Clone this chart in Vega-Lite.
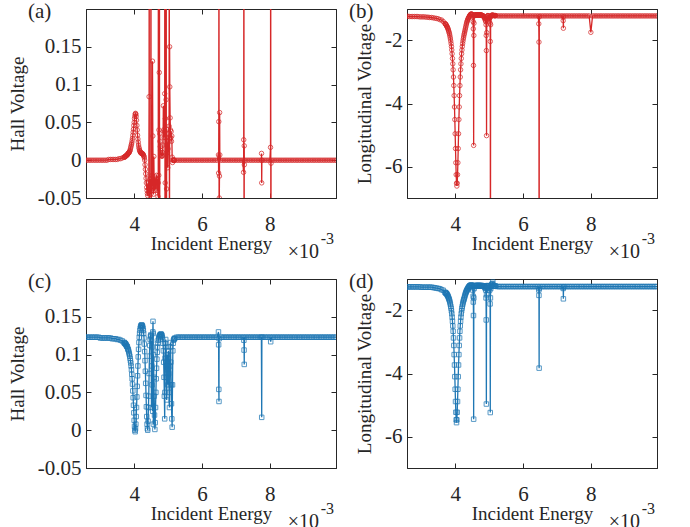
{
  "$schema": "https://vega.github.io/schema/vega-lite/v6.json",
  "background": "white",
  "padding": {"left": 7, "top": 0, "right": 0, "bottom": 0},
  "config": {
    "view": {"stroke": "#262626", "strokeWidth": 1},
    "axis": {
      "labelFont": "Liberation Serif", "labelFontSize": 21, "labelColor": "#262626",
      "titleFont": "Liberation Serif", "titleFontSize": 19, "titleFontWeight": "normal", "titleColor": "#262626",
      "domainColor": "#262626", "tickColor": "#262626", "grid": false, "tickSize": -5
    },
    "text": {"font": "Liberation Serif", "color": "#262626", "baseline": "alphabetic"}
  },
  "datasets": {
    "rows": [
      {"e":2.55,"h1":0,"l1":-1.23,"h2":0.123,"l2":-1.25},
      {"e":2.60,"h1":0,"l1":-1.23,"h2":0.123,"l2":-1.25},
      {"e":2.65,"h1":0,"l1":-1.24,"h2":0.123,"l2":-1.25},
      {"e":2.70,"h1":0,"l1":-1.24,"h2":0.123,"l2":-1.25},
      {"e":2.75,"h1":0,"l1":-1.24,"h2":0.123,"l2":-1.25},
      {"e":2.80,"h1":0,"l1":-1.24,"h2":0.123,"l2":-1.25},
      {"e":2.85,"h1":0,"l1":-1.24,"h2":0.123,"l2":-1.25},
      {"e":2.90,"h1":0,"l1":-1.24,"h2":0.123,"l2":-1.25},
      {"e":2.95,"h1":0,"l1":-1.25,"h2":0.123,"l2":-1.25},
      {"e":3.00,"h1":0,"l1":-1.25,"h2":0.122,"l2":-1.26},
      {"e":3.05,"h1":0,"l1":-1.25,"h2":0.122,"l2":-1.26},
      {"e":3.10,"h1":0,"l1":-1.25,"h2":0.122,"l2":-1.26},
      {"e":3.15,"h1":0,"l1":-1.26,"h2":0.122,"l2":-1.26},
      {"e":3.20,"h1":0,"l1":-1.26,"h2":0.122,"l2":-1.26},
      {"e":3.25,"h1":0.001,"l1":-1.27,"h2":0.122,"l2":-1.26},
      {"e":3.30,"h1":0.001,"l1":-1.27,"h2":0.122,"l2":-1.26},
      {"e":3.35,"h1":0.001,"l1":-1.28,"h2":0.121,"l2":-1.27},
      {"e":3.40,"h1":0.001,"l1":-1.29,"h2":0.121,"l2":-1.28},
      {"e":3.45,"h1":0.001,"l1":-1.30,"h2":0.121,"l2":-1.29},
      {"e":3.50,"h1":0.001,"l1":-1.31,"h2":0.120,"l2":-1.30},
      {"e":3.55,"h1":0.002,"l1":-1.34,"h2":0.120,"l2":-1.31},
      {"e":3.60,"h1":0.002,"l1":-1.35,"h2":0.119,"l2":-1.34},
      {"e":3.65,"h1":0.003,"l1":-1.40,"h2":0.118,"l2":-1.36},
      {"e":3.70,"h1":0.004,"l1":-1.46,"h2":0.116,"l2":-1.42},
      {"e":3.71,"h1":0.004,"l1":-1.47,"h2":0.116,"l2":-1.43},
      {"e":3.72,"h1":0.004,"l1":-1.48,"h2":0.115,"l2":-1.44},
      {"e":3.73,"h1":0.005,"l1":-1.50,"h2":0.115,"l2":-1.45},
      {"e":3.74,"h1":0.005,"l1":-1.52,"h2":0.114,"l2":-1.46},
      {"e":3.75,"h1":0.005,"l1":-1.54,"h2":0.114,"l2":-1.47},
      {"e":3.76,"h1":0.006,"l1":-1.56,"h2":0.113,"l2":-1.49},
      {"e":3.77,"h1":0.006,"l1":-1.58,"h2":0.112,"l2":-1.51},
      {"e":3.78,"h1":0.007,"l1":-1.61,"h2":0.111,"l2":-1.53},
      {"e":3.79,"h1":0.007,"l1":-1.63,"h2":0.111,"l2":-1.55},
      {"e":3.80,"h1":0.007,"l1":-1.67,"h2":0.110,"l2":-1.58},
      {"e":3.81,"h1":0.008,"l1":-1.70,"h2":0.108,"l2":-1.61},
      {"e":3.82,"h1":0.009,"l1":-1.74,"h2":0.107,"l2":-1.64},
      {"e":3.83,"h1":0.009,"l1":-1.78,"h2":0.106,"l2":-1.67},
      {"e":3.84,"h1":0.010,"l1":-1.83,"h2":0.104,"l2":-1.71},
      {"e":3.85,"h1":0.010,"l1":-1.89,"h2":0.102,"l2":-1.76},
      {"e":3.86,"h1":0.011,"l1":-1.95,"h2":0.100,"l2":-1.81},
      {"e":3.87,"h1":0.012,"l1":-2.02,"h2":0.098,"l2":-1.87},
      {"e":3.88,"h1":0.013,"l1":-2.10,"h2":0.095,"l2":-1.93},
      {"e":3.89,"h1":0.015,"l1":-2.19,"h2":0.092,"l2":-2.01},
      {"e":3.90,"h1":0.017,"l1":-2.30,"h2":0.089,"l2":-2.10},
      {"e":3.91,"h1":0.019,"l1":-2.42,"h2":0.085,"l2":-2.21},
      {"e":3.92,"h1":0.021,"l1":-2.57,"h2":0.080,"l2":-2.34},
      {"e":3.93,"h1":0.023,"l1":-2.74,"h2":0.074,"l2":-2.49},
      {"e":3.94,"h1":0.026,"l1":-2.93,"h2":0.068,"l2":-2.66},
      {"e":3.95,"h1":0.029,"l1":-3.16,"h2":0.061,"l2":-2.87},
      {"e":3.96,"h1":0.033,"l1":-3.43,"h2":0.052,"l2":-3.11},
      {"e":3.97,"h1":0.037,"l1":-3.75,"h2":0.043,"l2":-3.40},
      {"e":3.98,"h1":0.041,"l1":-4.11,"h2":0.033,"l2":-3.73},
      {"e":3.99,"h1":0.046,"l1":-4.51,"h2":0.023,"l2":-4.10},
      {"e":4.00,"h1":0.050,"l1":-4.96,"h2":0.013,"l2":-4.50},
      {"e":4.01,"h1":0.055,"l1":-5.43,"h2":0.005,"l2":-4.89},
      {"e":4.02,"h1":0.058,"l1":-5.88,"h2":0.000,"l2":-5.23},
      {"e":4.03,"h1":0.061,"l1":-6.26,"h2":-0.002,"l2":-5.47},
      {"e":4.04,"h1":0.062,"l1":-6.53,"h2":0.002,"l2":-5.56},
      {"e":4.05,"h1":0.061,"l1":-6.62,"h2":0.008,"l2":-5.47},
      {"e":4.06,"h1":0.058,"l1":-6.53,"h2":0.018,"l2":-5.23},
      {"e":4.07,"h1":0.053,"l1":-6.26,"h2":0.030,"l2":-4.89},
      {"e":4.08,"h1":0.046,"l1":-5.88,"h2":0.044,"l2":-4.50},
      {"e":4.09,"h1":0.040,"l1":-5.43,"h2":0.058,"l2":-4.10},
      {"e":4.10,"h1":0.033,"l1":-4.96,"h2":0.072,"l2":-3.73},
      {"e":4.11,"h1":0.028,"l1":-4.51,"h2":0.085,"l2":-3.40},
      {"e":4.12,"h1":0.024,"l1":-4.11,"h2":0.097,"l2":-3.11},
      {"e":4.13,"h1":0.020,"l1":-3.75,"h2":0.107,"l2":-2.87},
      {"e":4.14,"h1":0.017,"l1":-3.43,"h2":0.116,"l2":-2.66},
      {"e":4.15,"h1":0.015,"l1":-3.16,"h2":0.123,"l2":-2.49},
      {"e":4.16,"h1":0.013,"l1":-2.93,"h2":0.128,"l2":-2.34},
      {"e":4.17,"h1":0.012,"l1":-2.74,"h2":0.132,"l2":-2.21},
      {"e":4.18,"h1":0.011,"l1":-2.57,"h2":0.135,"l2":-2.10},
      {"e":4.19,"h1":0.010,"l1":-2.42,"h2":0.137,"l2":-2.01},
      {"e":4.20,"h1":0.010,"l1":-2.30,"h2":0.138,"l2":-1.93},
      {"e":4.21,"h1":0.009,"l1":-2.19,"h2":0.139,"l2":-1.87},
      {"e":4.22,"h1":0.009,"l1":-2.10,"h2":0.139,"l2":-1.81},
      {"e":4.23,"h1":0.009,"l1":-2.02,"h2":0.139,"l2":-1.76},
      {"e":4.24,"h1":0.009,"l1":-1.95,"h2":0.138,"l2":-1.71},
      {"e":4.25,"h1":0.008,"l1":-1.89,"h2":0.137,"l2":-1.67},
      {"e":4.26,"h1":0.008,"l1":-1.83,"h2":0.135,"l2":-1.64},
      {"e":4.27,"h1":0.007,"l1":-1.78,"h2":0.132,"l2":-1.60},
      {"e":4.28,"h1":0.006,"l1":-1.73,"h2":0.128,"l2":-1.56},
      {"e":4.29,"h1":0.005,"l1":-1.68,"h2":0.122,"l2":-1.52},
      {"e":4.30,"h1":0.003,"l1":-1.63,"h2":0.114,"l2":-1.48},
      {"e":4.31,"h1":0.000,"l1":-1.58,"h2":0.104,"l2":-1.45},
      {"e":4.32,"h1":-0.006,"l1":-1.53,"h2":0.092,"l2":-1.42},
      {"e":4.33,"h1":-0.012,"l1":-1.48,"h2":0.078,"l2":-1.39},
      {"e":4.34,"h1":-0.018,"l1":-1.44,"h2":0.062,"l2":-1.37},
      {"e":4.35,"h1":-0.024,"l1":-1.40,"h2":0.046,"l2":-1.35},
      {"e":4.36,"h1":-0.030,"l1":-1.37,"h2":0.031,"l2":-1.33},
      {"e":4.37,"h1":-0.036,"l1":-1.34,"h2":0.018,"l2":-1.31},
      {"e":4.38,"h1":-0.040,"l1":-1.31,"h2":0.008,"l2":-1.29},
      {"e":4.39,"h1":-0.044,"l1":-1.29,"h2":0.002,"l2":-1.27},
      {"e":4.40,"h1":-0.047,"l1":-1.27,"h2":0.000,"l2":-1.26},
      {"e":4.41,"h1":-0.030,"l1":-1.25,"h2":0.012,"l2":-1.24},
      {"e":4.42,"h1":-0.038,"l1":-1.23,"h2":0.030,"l2":-1.23},
      {"e":4.43,"h1":-0.043,"l1":-1.21,"h2":0.045,"l2":-1.22},
      {"e":4.44,"h1":0.084,"l1":-1.19,"h2":0.075,"l2":-1.21},
      {"e":4.444,"h1":0.6},
      {"e":4.447,"h1":-0.5},
      {"e":4.45,"h1":-0.045,"l1":-1.18,"h2":0.098,"l2":-1.20},
      {"e":4.46,"h1":-0.025,"l1":-1.17,"h2":0.112,"l2":-1.20},
      {"e":4.47,"h1":-0.040,"l1":-1.16,"h2":0.120,"l2":-1.20},
      {"e":4.48,"h1":-0.030,"l1":-1.16,"h2":0.124,"l2":-1.20},
      {"e":4.49,"h1":-0.045,"l1":-1.17,"h2":0.126,"l2":-1.20},
      {"e":4.495,"h1":0.6},
      {"e":4.50,"h1":-0.5,"l1":-1.17,"h2":0.125,"l2":-1.21},
      {"e":4.505,"h1":-0.035},
      {"e":4.51,"h1":-0.028,"l1":-1.18,"h2":0.030,"l2":-1.25},
      {"e":4.515,"h2":0.118},
      {"e":4.52,"h1":-0.040,"l1":-1.25,"h2":0.085,"l2":-1.35},
      {"e":4.53,"h1":-0.020,"l1":-1.40,"h2":0.060,"l2":-1.55},
      {"e":4.535,"l1":-1.63,"l2":-1.73},
      {"e":4.54,"h1":0.131,"l1":-2.79,"h2":0.110,"l2":-2.16},
      {"e":4.545,"l1":-5.33,"h2":0.025,"l2":-5.45},
      {"e":4.55,"h1":0.032,"l1":-1.84,"h2":0.130,"l2":-1.60},
      {"e":4.555,"l1":-1.45,"h2":0.144},
      {"e":4.56,"h1":-0.030,"l1":-1.22,"h2":0.128,"l2":-1.30},
      {"e":4.565,"h2":0.008},
      {"e":4.57,"h1":-0.045,"l1":-1.19,"h2":0.100,"l2":-1.22},
      {"e":4.58,"h1":0.005,"l1":-1.19,"h2":0.070,"l2":-1.21},
      {"e":4.59,"h1":-0.035,"l1":-1.19,"h2":0.045,"l2":-1.21},
      {"e":4.60,"h1":-0.022,"l1":-1.19,"h2":0.020,"l2":-1.21},
      {"e":4.61,"h1":-0.040,"l1":-1.19,"h2":0.001,"l2":-1.21},
      {"e":4.62,"h1":-0.028,"l1":-1.19,"h2":0.010,"l2":-1.21},
      {"e":4.63,"h1":-0.038,"l1":-1.19,"h2":0.030,"l2":-1.21},
      {"e":4.64,"h1":-0.025,"l1":-1.19,"h2":0.050,"l2":-1.21},
      {"e":4.65,"h1":-0.033,"l1":-1.19,"h2":0.068,"l2":-1.21},
      {"e":4.66,"h1":-0.020,"l1":-1.19,"h2":0.082,"l2":-1.21},
      {"e":4.67,"h1":-0.030,"l1":-1.19,"h2":0.094,"l2":-1.21},
      {"e":4.68,"h1":-0.040,"l1":-1.19,"h2":0.103,"l2":-1.21},
      {"e":4.69,"h1":-0.025,"l1":-1.19,"h2":0.110,"l2":-1.21},
      {"e":4.70,"h1":-0.048,"l1":-1.19,"h2":0.115,"l2":-1.21},
      {"e":4.71,"h1":-0.030,"l1":-1.19,"h2":0.119,"l2":-1.21},
      {"e":4.715,"h1":0.6},
      {"e":4.72,"h1":-0.5,"l1":-1.19,"h2":0.121,"l2":-1.21},
      {"e":4.725,"h1":-0.020},
      {"e":4.73,"h1":0.040,"l1":-1.19,"h2":0.123,"l2":-1.21},
      {"e":4.74,"h1":0.116,"l1":-1.19,"h2":0.124,"l2":-1.21},
      {"e":4.745,"h1":0.6},
      {"e":4.75,"h1":-0.5,"l1":-1.19,"h2":0.125,"l2":-1.21},
      {"e":4.755,"h1":0.035},
      {"e":4.76,"h1":0.025,"l1":-1.19,"h2":0.126,"l2":-1.21},
      {"e":4.77,"h1":0.018,"l1":-1.19,"h2":0.126,"l2":-1.21},
      {"e":4.78,"h1":0.013,"l1":-1.20,"h2":0.127,"l2":-1.21},
      {"e":4.79,"h1":0.010,"l1":-1.20,"h2":0.127,"l2":-1.21},
      {"e":4.80,"h1":0.008,"l1":-1.21,"h2":0.127,"l2":-1.22},
      {"e":4.81,"h1":0.006,"l1":-1.21,"h2":0.126,"l2":-1.22},
      {"e":4.82,"h1":0.005,"l1":-1.22,"h2":0.125,"l2":-1.22},
      {"e":4.83,"h1":0.006,"l1":-1.22,"h2":0.123,"l2":-1.22},
      {"e":4.84,"h1":0.010,"l1":-1.23,"h2":0.120,"l2":-1.23},
      {"e":4.85,"h1":0.020,"l1":-1.25,"h2":0.115,"l2":-1.23},
      {"e":4.86,"h1":0.072,"l1":-1.27,"h2":0.105,"l2":-1.24},
      {"e":4.87,"h1":0.040,"l1":-1.29,"h2":0.090,"l2":-1.25},
      {"e":4.88,"h1":0.030,"l1":-1.32,"h2":0.070,"l2":-1.27},
      {"e":4.89,"h1":0.038,"l1":-1.36,"h2":0.045,"l2":-1.30},
      {"e":4.90,"h1":0.088,"l1":-1.40,"h2":0.015,"l2":-1.35},
      {"e":4.905,"h1":0.6,"h2":0.050},
      {"e":4.91,"h1":-0.5,"l1":-1.50,"h2":0.095,"l2":-1.60},
      {"e":4.915,"h1":-0.030,"l1":-1.84,"l2":-2.30},
      {"e":4.92,"h1":0.055,"l1":-2.32,"h2":0.115,"l2":-4.97},
      {"e":4.925,"l1":-5.02,"l2":-1.50},
      {"e":4.93,"h1":0.030,"l1":-1.75,"h2":0.120,"l2":-1.30},
      {"e":4.935,"l1":-1.35},
      {"e":4.94,"h1":0.080,"l1":-1.25,"h2":0.110,"l2":-1.24},
      {"e":4.945,"h1":0.6},
      {"e":4.95,"h1":-0.5,"l1":-1.22,"h2":0.070,"l2":-1.22},
      {"e":4.955,"h1":-0.038},
      {"e":4.96,"h1":0.041,"l1":-1.21,"h2":0.040,"l2":-1.21},
      {"e":4.97,"h1":0.020,"l1":-1.21,"h2":0.080,"l2":-1.21},
      {"e":4.98,"h1":0.010,"l1":-1.22,"h2":0.100,"l2":-1.22},
      {"e":4.99,"h1":-0.010,"l1":-1.25,"h2":0.060,"l2":-1.24},
      {"e":5.00,"h1":0.015,"l1":-1.38,"h2":0.095,"l2":-1.28},
      {"e":5.01,"h1":0.025,"l1":-1.30,"h2":0.105,"l2":-1.26},
      {"e":5.02,"h1":0.035,"l1":-1.28,"h2":0.075,"l2":-1.35},
      {"e":5.03,"h1":0.045,"l1":-1.45,"h2":0.050,"l2":-1.79},
      {"e":5.035,"h1":0.6,"l1":-2.03,"l2":-5.24},
      {"e":5.04,"h1":-0.5,"l1":-12,"h2":0.030,"l2":-1.60},
      {"e":5.045,"h1":0.150,"l1":-1.50},
      {"e":5.05,"h1":0.097,"l1":-1.25,"h2":0.085,"l2":-1.30},
      {"e":5.06,"h1":0.056,"l1":-1.21,"h2":0.110,"l2":-1.22},
      {"e":5.07,"h1":0.040,"l1":-1.20,"h2":0.116,"l2":-1.20},
      {"e":5.08,"h1":0.030,"l1":-1.20,"h2":0.090,"l2":-1.18},
      {"e":5.09,"h1":0.038,"l1":-1.20,"h2":0.060,"l2":-1.16},
      {"e":5.10,"h1":0.025,"l1":-1.20,"h2":0.035,"l2":-1.15},
      {"e":5.11,"h1":0.032,"l1":-1.20,"h2":0.015,"l2":-1.10},
      {"e":5.12,"h1":0.004,"l1":-1.20,"h2":0.004,"l2":-1.20},
      {"e":5.13,"h1":-0.003,"l1":-1.20,"h2":0.060,"l2":-1.22},
      {"e":5.14,"h1":0.000,"l1":-1.21,"h2":0.105,"l2":-1.23},
      {"e":5.15,"h1":0,"l1":-1.21,"h2":0.115,"l2":-1.23},
      {"e":5.16,"h1":0,"l1":-1.21,"h2":0.119,"l2":-1.23},
      {"e":5.17,"h1":0,"l1":-1.21,"h2":0.120,"l2":-1.23},
      {"e":5.18,"h1":0,"l1":-1.21,"h2":0.121,"l2":-1.23},
      {"e":5.19,"h1":0,"l1":-1.21,"h2":0.121,"l2":-1.23},
      {"e":5.20,"h1":0,"l1":-1.21,"h2":0.122,"l2":-1.23},
      {"e":5.25,"h1":0,"l1":-1.22,"h2":0.123,"l2":-1.24},
      {"e":5.30,"h1":0,"l1":-1.22,"h2":0.123,"l2":-1.24},
      {"e":5.35,"h1":0,"l1":-1.22,"h2":0.123,"l2":-1.24},
      {"e":5.40,"h1":0,"l1":-1.22,"h2":0.123,"l2":-1.24},
      {"e":5.45,"h1":0,"l1":-1.22,"h2":0.123,"l2":-1.24},
      {"e":5.50,"h1":0,"l1":-1.22,"h2":0.123,"l2":-1.24},
      {"e":5.55,"h1":0,"l1":-1.22,"h2":0.123,"l2":-1.24},
      {"e":5.60,"h1":0,"l1":-1.22,"h2":0.123,"l2":-1.24},
      {"e":5.65,"h1":0,"l1":-1.22,"h2":0.123,"l2":-1.24},
      {"e":5.70,"h1":0,"l1":-1.22,"h2":0.123,"l2":-1.24},
      {"e":5.75,"h1":0,"l1":-1.22,"h2":0.123,"l2":-1.24},
      {"e":5.80,"h1":0,"l1":-1.22,"h2":0.123,"l2":-1.24},
      {"e":5.85,"h1":0,"l1":-1.22,"h2":0.123,"l2":-1.24},
      {"e":5.90,"h1":0,"l1":-1.22,"h2":0.123,"l2":-1.24},
      {"e":5.95,"h1":0,"l1":-1.22,"h2":0.123,"l2":-1.24},
      {"e":6.00,"h1":0,"l1":-1.22,"h2":0.123,"l2":-1.24},
      {"e":6.05,"h1":0,"l1":-1.22,"h2":0.123,"l2":-1.24},
      {"e":6.10,"h1":0,"l1":-1.22,"h2":0.123,"l2":-1.24},
      {"e":6.15,"h1":0,"l1":-1.22,"h2":0.123,"l2":-1.24},
      {"e":6.20,"h1":0,"l1":-1.22,"h2":0.123,"l2":-1.24},
      {"e":6.25,"h1":0,"l1":-1.22,"h2":0.123,"l2":-1.24},
      {"e":6.30,"h1":0,"l1":-1.22,"h2":0.123,"l2":-1.24},
      {"e":6.35,"h1":0,"l1":-1.22,"h2":0.123,"l2":-1.24},
      {"e":6.40,"h1":0,"l1":-1.22,"h2":0.123,"l2":-1.24},
      {"e":6.45,"h1":0,"l1":-1.22,"h2":0.123,"l2":-1.24},
      {"e":6.465,"l1":-1.47,"l2":-1.35},
      {"e":6.47,"l1":-2.05,"l2":-1.52},
      {"e":6.475,"l1":-15,"l2":-3.83},
      {"e":6.48,"l1":-1.25,"l2":-1.30},
      {"e":6.485,"h1":0.007,"h2":0.130},
      {"e":6.49,"h1":-0.017,"h2":0.113},
      {"e":6.495,"h1":0.051,"h2":0.054},
      {"e":6.50,"h1":0.6,"l1":-1.22,"h2":0.038,"l2":-1.24},
      {"e":6.505,"h1":-0.5,"h2":0.121},
      {"e":6.51,"h1":-0.050},
      {"e":6.515,"h1":-0.021},
      {"e":6.52,"h1":0.063},
      {"e":6.525,"h1":0.007},
      {"e":6.55,"h1":0,"l1":-1.22,"h2":0.123,"l2":-1.24},
      {"e":6.60,"h1":0,"l1":-1.22,"h2":0.123,"l2":-1.24},
      {"e":6.65,"h1":0,"l1":-1.22,"h2":0.123,"l2":-1.24},
      {"e":6.70,"h1":0,"l1":-1.22,"h2":0.123,"l2":-1.24},
      {"e":6.75,"h1":0,"l1":-1.22,"h2":0.123,"l2":-1.24},
      {"e":6.80,"h1":0,"l1":-1.22,"h2":0.123,"l2":-1.24},
      {"e":6.85,"h1":0,"l1":-1.22,"h2":0.123,"l2":-1.24},
      {"e":6.90,"h1":0,"l1":-1.22,"h2":0.123,"l2":-1.24},
      {"e":6.95,"h1":0,"l1":-1.22,"h2":0.123,"l2":-1.24},
      {"e":7.00,"h1":0,"l1":-1.22,"h2":0.123,"l2":-1.24},
      {"e":7.05,"h1":0,"l1":-1.22,"h2":0.123,"l2":-1.24},
      {"e":7.10,"h1":0,"l1":-1.22,"h2":0.123,"l2":-1.24},
      {"e":7.15,"h1":0,"l1":-1.22,"h2":0.123,"l2":-1.24},
      {"e":7.185,"l1":-1.37,"l2":-1.30},
      {"e":7.19,"l1":-1.61,"l2":-1.63},
      {"e":7.195,"l1":-1.25,"l2":-1.25},
      {"e":7.20,"h1":0,"l1":-1.22,"h2":0.123,"l2":-1.24},
      {"e":7.225,"h1":-0.016},
      {"e":7.23,"h1":0.027},
      {"e":7.235,"h1":0.6,"h2":0.119},
      {"e":7.24,"h1":-0.5,"h2":0.106},
      {"e":7.245,"h1":0.019,"h2":0.087},
      {"e":7.248,"h1":-0.006},
      {"e":7.25,"h1":0,"l1":-1.22,"h2":0.123,"l2":-1.24},
      {"e":7.30,"h1":0,"l1":-1.22,"h2":0.123,"l2":-1.24},
      {"e":7.35,"h1":0,"l1":-1.22,"h2":0.123,"l2":-1.24},
      {"e":7.40,"h1":0,"l1":-1.22,"h2":0.123,"l2":-1.24},
      {"e":7.45,"h1":0,"l1":-1.22,"h2":0.123,"l2":-1.24},
      {"e":7.50,"h1":0,"l1":-1.22,"h2":0.123,"l2":-1.24},
      {"e":7.55,"h1":0,"l1":-1.22,"h2":0.123,"l2":-1.24},
      {"e":7.60,"h1":0,"l1":-1.22,"h2":0.123,"l2":-1.24},
      {"e":7.65,"h1":0,"l1":-1.22,"h2":0.123,"l2":-1.24},
      {"e":7.70,"h1":0,"l1":-1.22,"h2":0.123,"l2":-1.24},
      {"e":7.75,"h1":0,"l1":-1.22,"h2":0.123,"l2":-1.24},
      {"e":7.755,"h1":0.009},
      {"e":7.76,"h1":-0.030,"h2":0.017},
      {"e":7.765,"h1":0,"h2":0.123},
      {"e":7.80,"h1":0,"l1":-1.22,"h2":0.123,"l2":-1.24},
      {"e":7.85,"h1":0,"l1":-1.22,"h2":0.123,"l2":-1.24},
      {"e":7.90,"h1":0,"l1":-1.22,"h2":0.123,"l2":-1.24},
      {"e":7.95,"h1":0,"l1":-1.22,"h2":0.123,"l2":-1.24},
      {"e":8.00,"h1":0,"l1":-1.74,"h2":0.123,"l2":-1.24},
      {"e":8.02,"h1":0.017},
      {"e":8.025,"h1":0.6,"h2":0.117},
      {"e":8.03,"h1":-0.5},
      {"e":8.035,"h1":-0.004},
      {"e":8.05,"h1":0,"l1":-1.22,"h2":0.123,"l2":-1.24},
      {"e":8.10,"h1":0,"l1":-1.22,"h2":0.123,"l2":-1.24},
      {"e":8.15,"h1":0,"l1":-1.22,"h2":0.123,"l2":-1.24},
      {"e":8.20,"h1":0,"l1":-1.22,"h2":0.123,"l2":-1.24},
      {"e":8.25,"h1":0,"l1":-1.22,"h2":0.123,"l2":-1.24},
      {"e":8.30,"h1":0,"l1":-1.22,"h2":0.123,"l2":-1.24},
      {"e":8.35,"h1":0,"l1":-1.22,"h2":0.123,"l2":-1.24},
      {"e":8.40,"h1":0,"l1":-1.22,"h2":0.123,"l2":-1.24},
      {"e":8.45,"h1":0,"l1":-1.22,"h2":0.123,"l2":-1.24},
      {"e":8.50,"h1":0,"l1":-1.22,"h2":0.123,"l2":-1.24},
      {"e":8.55,"h1":0,"l1":-1.22,"h2":0.123,"l2":-1.24},
      {"e":8.60,"h1":0,"l1":-1.22,"h2":0.123,"l2":-1.24},
      {"e":8.65,"h1":0,"l1":-1.22,"h2":0.123,"l2":-1.24},
      {"e":8.70,"h1":0,"l1":-1.22,"h2":0.123,"l2":-1.24},
      {"e":8.75,"h1":0,"l1":-1.22,"h2":0.123,"l2":-1.24},
      {"e":8.80,"h1":0,"l1":-1.22,"h2":0.123,"l2":-1.24},
      {"e":8.85,"h1":0,"l1":-1.22,"h2":0.123,"l2":-1.24},
      {"e":8.90,"h1":0,"l1":-1.22,"h2":0.123,"l2":-1.24},
      {"e":8.95,"h1":0,"l1":-1.22,"h2":0.123,"l2":-1.24},
      {"e":9.00,"h1":0,"l1":-1.22,"h2":0.123,"l2":-1.24},
      {"e":9.05,"h1":0,"l1":-1.22,"h2":0.123,"l2":-1.24},
      {"e":9.10,"h1":0,"l1":-1.22,"h2":0.123,"l2":-1.24},
      {"e":9.15,"h1":0,"l1":-1.22,"h2":0.123,"l2":-1.24},
      {"e":9.20,"h1":0,"l1":-1.22,"h2":0.123,"l2":-1.24},
      {"e":9.25,"h1":0,"l1":-1.22,"h2":0.123,"l2":-1.24},
      {"e":9.30,"h1":0,"l1":-1.22,"h2":0.123,"l2":-1.24},
      {"e":9.35,"h1":0,"l1":-1.22,"h2":0.123,"l2":-1.24},
      {"e":9.40,"h1":0,"l1":-1.22,"h2":0.123,"l2":-1.24},
      {"e":9.45,"h1":0,"l1":-1.22,"h2":0.123,"l2":-1.24},
      {"e":9.50,"h1":0,"l1":-1.22,"h2":0.123,"l2":-1.24},
      {"e":9.55,"h1":0,"l1":-1.22,"h2":0.123,"l2":-1.24},
      {"e":9.60,"h1":0,"l1":-1.22,"h2":0.123,"l2":-1.24},
      {"e":9.65,"h1":0,"l1":-1.22,"h2":0.123,"l2":-1.24},
      {"e":9.70,"h1":0,"l1":-1.22,"h2":0.123,"l2":-1.24},
      {"e":9.75,"h1":0,"l1":-1.22,"h2":0.123,"l2":-1.24},
      {"e":9.80,"h1":0,"l1":-1.22,"h2":0.123,"l2":-1.24},
      {"e":9.85,"h1":0,"l1":-1.22,"h2":0.123,"l2":-1.24},
      {"e":9.90,"h1":0,"l1":-1.22,"h2":0.123,"l2":-1.24},
      {"e":9.95,"h1":0,"l1":-1.22,"h2":0.123,"l2":-1.24}
    ]
  },
  "columns": 2,
  "bounds": "flush",
  "spacing": {"row": 81, "column": 71},
  "concat": [
    {
      "width": 250, "height": 189,
      "layer": [
        {
          "data": {"name": "rows"},
          "transform": [{"filter": "isValid(datum.h1)"}],
          "mark": {"type": "line", "color": "#D62728", "strokeWidth": 1.3, "clip": true},
          "encoding": {
            "x": {"field": "e", "type": "quantitative", "scale": {"domain": [2.58, 9.95], "nice": false, "zero": false},
                  "axis": {"orient": "bottom", "values": [4, 6, 8], "format": "~g", "title": "Incident Energy", "labelPadding": 20, "titlePadding": 0}},
            "y": {"field": "h1", "type": "quantitative", "scale": {"domain": [-0.05, 0.2], "nice": false, "zero": false},
                  "axis": {"orient": "left", "values": [-0.05, 0, 0.05, 0.1, 0.15], "labelExpr": "datum.value < 0 ? '-' + format(-datum.value, '~g') : format(datum.value, '~g')", "title": "Hall Voltage", "labelPadding": 10, "titlePadding": 10}}
          }
        },
        {
          "data": {"name": "rows"},
          "transform": [{"filter": "isValid(datum.h1)"}],
          "mark": {"type": "point", "shape": "circle", "filled": false, "size": 20, "strokeWidth": 1, "color": "#D62728", "opacity": 0.75, "clip": true},
          "encoding": {
            "x": {"field": "e", "type": "quantitative", "axis": {"orient": "top", "values": [4, 6, 8], "labels": false, "title": null}},
            "y": {"field": "h1", "type": "quantitative", "axis": {"orient": "right", "values": [-0.05, 0, 0.05, 0.1, 0.15], "labels": false, "title": null}}
          }
        },
        {
          "data": {"values": [{}]},
          "mark": {"type": "text", "text": "(a)", "align": "left", "dx": -58, "dy": 9, "fontSize": 21},
          "encoding": {"x": {"datum": 2.58, "type": "quantitative", "axis": null}, "y": {"datum": 0.2, "type": "quantitative", "axis": null}}
        },
        {
          "data": {"values": [{}]},
          "mark": {"type": "text", "text": "×10", "align": "right", "dx": -17, "dy": 60, "fontSize": 20},
          "encoding": {"x": {"datum": 9.95, "type": "quantitative", "axis": null}, "y": {"datum": -0.05, "type": "quantitative", "axis": null}}
        },
        {
          "data": {"values": [{}]},
          "mark": {"type": "text", "text": "-3", "align": "right", "dx": -2, "dy": 46, "fontSize": 16},
          "encoding": {"x": {"datum": 9.95, "type": "quantitative", "axis": null}, "y": {"datum": -0.05, "type": "quantitative", "axis": null}}
        }
      ],
      "resolve": {"axis": {"x": "independent", "y": "independent"}}
    },
    {
      "width": 250, "height": 189,
      "layer": [
        {
          "data": {"name": "rows"},
          "transform": [{"filter": "isValid(datum.l1)"}],
          "mark": {"type": "line", "color": "#D62728", "strokeWidth": 1.3, "clip": true},
          "encoding": {
            "x": {"field": "e", "type": "quantitative", "scale": {"domain": [2.58, 9.95], "nice": false, "zero": false},
                  "axis": {"orient": "bottom", "values": [4, 6, 8], "format": "~g", "title": "Incident Energy", "labelPadding": 20, "titlePadding": 0}},
            "y": {"field": "l1", "type": "quantitative", "scale": {"domain": [-7, -1], "nice": false, "zero": false},
                  "axis": {"orient": "left", "values": [-6, -4, -2], "labelExpr": "datum.value < 0 ? '-' + format(-datum.value, '~g') : format(datum.value, '~g')", "title": "Longitudinal Voltage", "labelPadding": 10, "titlePadding": 10}}
          }
        },
        {
          "data": {"name": "rows"},
          "transform": [{"filter": "isValid(datum.l1)"}],
          "mark": {"type": "point", "shape": "circle", "filled": false, "size": 20, "strokeWidth": 1, "color": "#D62728", "opacity": 0.75, "clip": true},
          "encoding": {
            "x": {"field": "e", "type": "quantitative", "axis": {"orient": "top", "values": [4, 6, 8], "labels": false, "title": null}},
            "y": {"field": "l1", "type": "quantitative", "axis": {"orient": "right", "values": [-6, -4, -2], "labels": false, "title": null}}
          }
        },
        {
          "data": {"values": [{}]},
          "mark": {"type": "text", "text": "(b)", "align": "left", "dx": -58, "dy": 9, "fontSize": 21},
          "encoding": {"x": {"datum": 2.58, "type": "quantitative", "axis": null}, "y": {"datum": -1, "type": "quantitative", "axis": null}}
        },
        {
          "data": {"values": [{}]},
          "mark": {"type": "text", "text": "×10", "align": "right", "dx": -17, "dy": 60, "fontSize": 20},
          "encoding": {"x": {"datum": 9.95, "type": "quantitative", "axis": null}, "y": {"datum": -7, "type": "quantitative", "axis": null}}
        },
        {
          "data": {"values": [{}]},
          "mark": {"type": "text", "text": "-3", "align": "right", "dx": -2, "dy": 46, "fontSize": 16},
          "encoding": {"x": {"datum": 9.95, "type": "quantitative", "axis": null}, "y": {"datum": -7, "type": "quantitative", "axis": null}}
        }
      ],
      "resolve": {"axis": {"x": "independent", "y": "independent"}}
    },
    {
      "width": 250, "height": 189,
      "layer": [
        {
          "data": {"name": "rows"},
          "transform": [{"filter": "isValid(datum.h2)"}],
          "mark": {"type": "line", "color": "#1F77B4", "strokeWidth": 1.3, "clip": true},
          "encoding": {
            "x": {"field": "e", "type": "quantitative", "scale": {"domain": [2.58, 9.95], "nice": false, "zero": false},
                  "axis": {"orient": "bottom", "values": [4, 6, 8], "format": "~g", "title": "Incident Energy", "labelPadding": 20, "titlePadding": 0}},
            "y": {"field": "h2", "type": "quantitative", "scale": {"domain": [-0.05, 0.2], "nice": false, "zero": false},
                  "axis": {"orient": "left", "values": [-0.05, 0, 0.05, 0.1, 0.15], "labelExpr": "datum.value < 0 ? '-' + format(-datum.value, '~g') : format(datum.value, '~g')", "title": "Hall Voltage", "labelPadding": 10, "titlePadding": 10}}
          }
        },
        {
          "data": {"name": "rows"},
          "transform": [{"filter": "isValid(datum.h2)"}],
          "mark": {"type": "point", "shape": "square", "filled": false, "size": 20, "strokeWidth": 1, "color": "#1F77B4", "opacity": 0.75, "clip": true},
          "encoding": {
            "x": {"field": "e", "type": "quantitative", "axis": {"orient": "top", "values": [4, 6, 8], "labels": false, "title": null}},
            "y": {"field": "h2", "type": "quantitative", "axis": {"orient": "right", "values": [-0.05, 0, 0.05, 0.1, 0.15], "labels": false, "title": null}}
          }
        },
        {
          "data": {"values": [{}]},
          "mark": {"type": "text", "text": "(c)", "align": "left", "dx": -58, "dy": 9, "fontSize": 21},
          "encoding": {"x": {"datum": 2.58, "type": "quantitative", "axis": null}, "y": {"datum": 0.2, "type": "quantitative", "axis": null}}
        },
        {
          "data": {"values": [{}]},
          "mark": {"type": "text", "text": "×10", "align": "right", "dx": -17, "dy": 60, "fontSize": 20},
          "encoding": {"x": {"datum": 9.95, "type": "quantitative", "axis": null}, "y": {"datum": -0.05, "type": "quantitative", "axis": null}}
        },
        {
          "data": {"values": [{}]},
          "mark": {"type": "text", "text": "-3", "align": "right", "dx": -2, "dy": 46, "fontSize": 16},
          "encoding": {"x": {"datum": 9.95, "type": "quantitative", "axis": null}, "y": {"datum": -0.05, "type": "quantitative", "axis": null}}
        }
      ],
      "resolve": {"axis": {"x": "independent", "y": "independent"}}
    },
    {
      "width": 250, "height": 189,
      "layer": [
        {
          "data": {"name": "rows"},
          "transform": [{"filter": "isValid(datum.l2)"}],
          "mark": {"type": "line", "color": "#1F77B4", "strokeWidth": 1.3, "clip": true},
          "encoding": {
            "x": {"field": "e", "type": "quantitative", "scale": {"domain": [2.58, 9.95], "nice": false, "zero": false},
                  "axis": {"orient": "bottom", "values": [4, 6, 8], "format": "~g", "title": "Incident Energy", "labelPadding": 20, "titlePadding": 0}},
            "y": {"field": "l2", "type": "quantitative", "scale": {"domain": [-7, -1], "nice": false, "zero": false},
                  "axis": {"orient": "left", "values": [-6, -4, -2], "labelExpr": "datum.value < 0 ? '-' + format(-datum.value, '~g') : format(datum.value, '~g')", "title": "Longitudinal Voltage", "labelPadding": 10, "titlePadding": 10}}
          }
        },
        {
          "data": {"name": "rows"},
          "transform": [{"filter": "isValid(datum.l2)"}],
          "mark": {"type": "point", "shape": "square", "filled": false, "size": 20, "strokeWidth": 1, "color": "#1F77B4", "opacity": 0.75, "clip": true},
          "encoding": {
            "x": {"field": "e", "type": "quantitative", "axis": {"orient": "top", "values": [4, 6, 8], "labels": false, "title": null}},
            "y": {"field": "l2", "type": "quantitative", "axis": {"orient": "right", "values": [-6, -4, -2], "labels": false, "title": null}}
          }
        },
        {
          "data": {"values": [{}]},
          "mark": {"type": "text", "text": "(d)", "align": "left", "dx": -58, "dy": 9, "fontSize": 21},
          "encoding": {"x": {"datum": 2.58, "type": "quantitative", "axis": null}, "y": {"datum": -1, "type": "quantitative", "axis": null}}
        },
        {
          "data": {"values": [{}]},
          "mark": {"type": "text", "text": "×10", "align": "right", "dx": -17, "dy": 60, "fontSize": 20},
          "encoding": {"x": {"datum": 9.95, "type": "quantitative", "axis": null}, "y": {"datum": -7, "type": "quantitative", "axis": null}}
        },
        {
          "data": {"values": [{}]},
          "mark": {"type": "text", "text": "-3", "align": "right", "dx": -2, "dy": 46, "fontSize": 16},
          "encoding": {"x": {"datum": 9.95, "type": "quantitative", "axis": null}, "y": {"datum": -7, "type": "quantitative", "axis": null}}
        }
      ],
      "resolve": {"axis": {"x": "independent", "y": "independent"}}
    }
  ]
}
